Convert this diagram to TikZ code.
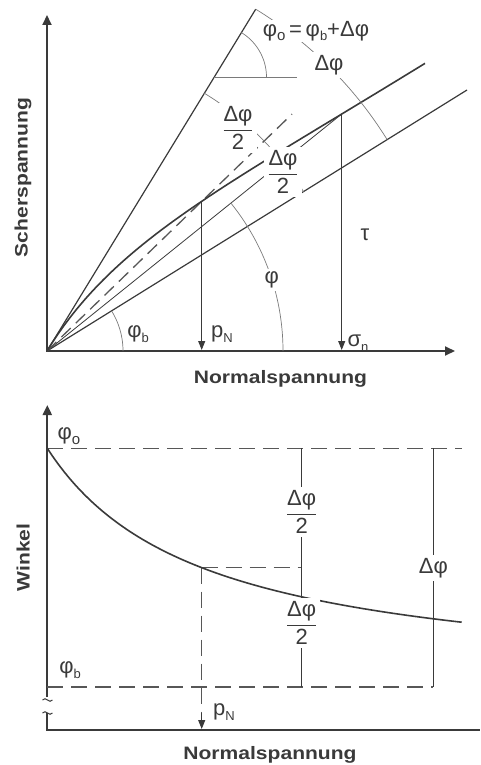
\documentclass[tikz,border=0pt]{standalone}
\usepackage{fontspec}
\setmainfont{Liberation Sans}
\newfontfamily\axfont[FakeStretch=1.17]{Liberation Sans}
\usetikzlibrary{arrows.meta}
\definecolor{ink}{HTML}{3A3A3A}
\definecolor{arcgray}{HTML}{7A7A7A}
\newcommand\lowidx[2][13]{\raisebox{-0.22em}{\fontsize{#1}{#1}\selectfont #2}}
\newcommand\halfdphi{$\displaystyle\frac{\hbox{Δφ}}{\hbox{2}}$}
\begin{document}
\begin{tikzpicture}[x=1pt,y=-1pt,
  axis/.style={ink,line width=2pt},
  mainline/.style={ink,line width=1.2pt},
  curveline/.style={ink,line width=1.6pt},
  thinline/.style={ink,line width=0.8pt},
  arcline/.style={arcgray,line width=0.7pt},
  dashline/.style={ink!85,line width=1.3pt,dash pattern=on 13pt off 7pt},
  dashbot/.style={ink!85,line width=1.3pt,dash pattern=on 16pt off 8pt},
  tip/.style={-{Triangle[length=10pt,width=9pt]}},
  smalltip/.style={-{Triangle[length=9pt,width=7pt]}},
  greek/.style={inner sep=1pt,font=\fontsize{22}{24}\selectfont,text=ink},
  halo/.style={greek,fill=white,inner sep=3pt},
  axlabel/.style={font=\axfont\bfseries\fontsize{18}{20}\selectfont,text=ink,inner sep=0pt}
]
\useasboundingbox (0,0) rectangle (480,765);
% ---------------- top diagram ----------------
\coordinate (O) at (47,351);
\coordinate (Ytop) at (47,15);
\coordinate (Xend) at (455,351);
\coordinate (Apex) at (255.7,9.2);
\coordinate (Bend) at (467,90);
\coordinate (Sn) at (341.7,114);
\coordinate (SnB) at (341.7,350);
\coordinate (Pn) at (201.7,201.4);
\coordinate (PnB) at (201.7,350);
\coordinate (Dend) at (292,114.1);
\coordinate (Hc) at (214.1,77.3);
\coordinate (Hend) at (296.7,77.3);

\draw[axis,{Triangle[length=10pt,width=9pt]}-{Triangle[length=10pt,width=9pt]}] (Ytop) -- (O) -- (Xend);
\draw[mainline] (O) -- (Apex);
\draw[mainline] (O) -- (Bend);
\draw[thinline] (O) -- (Sn);
\draw[dashline] (O) -- (Dend);
\draw[curveline] plot[domain=0:378,samples=120,smooth] ({47+\x},{351-\x*tan(35+23.6*exp(-0.0062*\x))});
\draw[thinline,smalltip] (Sn) -- (SnB);
\draw[thinline,smalltip] (Pn) -- (PnB);
% arcs
\draw[arcline] plot[domain=31.85:58.6,samples=60] ({47+302*cos(\x)},{351-302*sin(\x)});
\draw[arcline] plot[domain=31.85:58.6,samples=60] ({47+400.5*cos(\x)},{351-400.5*sin(\x)});
\draw[arcline] plot[domain=0:38.8,samples=60] ({47+236*cos(\x)},{351-236*sin(\x)});
\draw[arcline] plot[domain=0:31.85,samples=40] ({47+76*cos(\x)},{351-76*sin(\x)});
\draw[arcline] plot[domain=0:58.6,samples=40] ({214.1+52.4*cos(\x)},{77.3-52.4*sin(\x)});
\draw[thinline,arcgray] (Hc) -- (Hend);
% labels
\node[greek,fill=white] (formula) at (316,31) {φ\lowidx[15]{o}\,=\,φ\lowidx{b}+Δφ};
\node[halo] (dphi) at (329,65) {Δφ};
\node[halo] (half1) at (238,128) {\halfdphi};
\node[halo] (half2) at (283,172) {\halfdphi};
\node[halo] (phi) at (271.7,280) {φ};
\node[greek] (tau) at (365,235) {τ};
\node[greek] (phib) at (138,334) {φ\lowidx{b}};
\node[greek] (pN) at (222,334) {p\lowidx{N}};
\node[greek] (sigman) at (358,343) {σ\lowidx{n}};
\node[axlabel,anchor=base] (xlab1) at (280.5,383) {Normalspannung};
\node[axlabel,anchor=base,rotate=90] (ylab1) at (27.5,177.5) {Scherspannung};
% ---------------- bottom diagram ----------------
\coordinate (Ob) at (47.3,730);
\coordinate (Ybt) at (47.3,405);
\coordinate (Ybrk1) at (47.3,697);
\coordinate (Ybrk2) at (47.3,713);
\coordinate (Xbe) at (480,730);
\coordinate (PoL) at (47.3,448.3);
\coordinate (PoR) at (461.7,448.3);
\coordinate (PbL) at (47.3,687);
\coordinate (PbR) at (433.3,687);
\coordinate (Pc) at (201.7,567.6);
\coordinate (PcR) at (301.7,567.6);
\coordinate (Pdash) at (201.7,716);
\coordinate (Parr) at (201.7,713);
\coordinate (Parr2) at (201.7,729);
\coordinate (T1a) at (301.7,448.3);
\coordinate (T1b) at (301.7,687);
\coordinate (T2a) at (433.3,448.3);
\coordinate (T2b) at (433.3,687);

\draw[axis,{Triangle[length=10pt,width=9pt]}-] (Ybt) -- (Ybrk1);
\draw[axis] (Ybrk2) -- (Ob) -- (Xbe);
\draw[ink,line width=1pt] (42.5,700) .. controls (45.5,695.5) and (49.5,704.5) .. (52.5,700);
\draw[ink,line width=1pt] (42.5,713) .. controls (45.5,708.5) and (49.5,717.5) .. (52.5,713);
\draw[dashbot] (PoL) -- (PoR);
\draw[dashbot] (PbL) -- (PbR);
\draw[dashbot] (Pc) -- (PcR);
\draw[dashbot] (Pc) -- (Pdash);
\draw[thinline,smalltip] (Parr) -- (Parr2);
\draw[thinline] (T1a) -- (T1b);
\draw[thinline] (T2a) -- (T2b);
\draw[curveline] plot[domain=0:414.4,samples=120,smooth] ({47.3+\x},{687-238.7/(1+\x/154.4)});
\node[greek] (phio2) at (69,436) {φ\lowidx[15]{o}};
\node[greek] (phib2) at (70,670) {φ\lowidx{b}};
\node[halo] (half3) at (301.7,512) {\halfdphi};
\node[halo] (half4) at (301.7,623) {\halfdphi};
\node[halo] (dphi2) at (433.3,568) {Δφ};
\node[greek] (pN2) at (224,712) {p\lowidx{N}};
\node[axlabel,anchor=base,rotate=90] (ylab2) at (29.5,557.5) {Winkel};
\node[axlabel,anchor=base] (xlab2) at (270,759) {Normalspannung};
\end{tikzpicture}
\end{document}
